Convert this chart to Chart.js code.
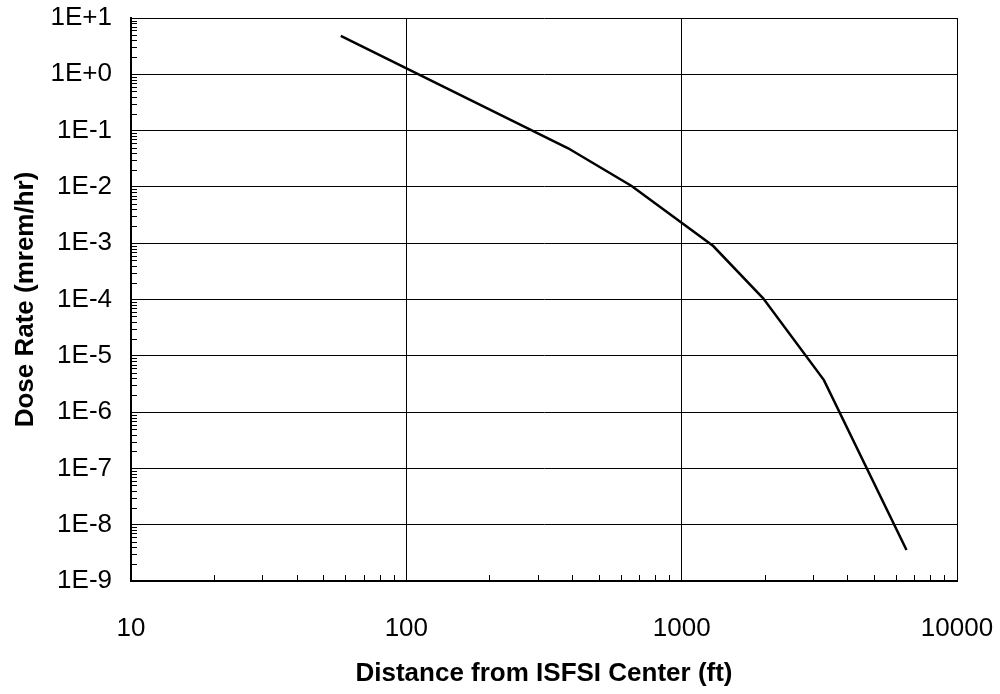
<!DOCTYPE html>
<html>
<head>
<meta charset="utf-8">
<script src="https://cdn.jsdelivr.net/npm/chart.js@4/dist/chart.umd.min.js"></script>
<style>
  body { margin: 0; background: #fff; }
  canvas { display: block; }
</style>
</head>
<body>
<canvas id="doseChart" width="1000" height="694"></canvas>
<script>
// distance from ISFSI center (ft) and dose rate (mrem/hr)
const distances = [57.8, 387, 658, 1302, 1977, 3286, 6556];
const doseRates = [4.8, 0.0485, 0.0104, 8.9e-4, 1.05e-4, 3.7e-6, 3.55e-9];

const xTicks = [10, 100, 1000, 10000];
const xTickLabels = ['10', '100', '1000', '10000'];
const yTicks = [1e-9, 1e-8, 1e-7, 1e-6, 1e-5, 1e-4, 1e-3, 1e-2, 1e-1, 1e0, 1e1];
const yTickLabels = ['1E-9', '1E-8', '1E-7', '1E-6', '1E-5', '1E-4', '1E-3', '1E-2', '1E-1', '1E+0', '1E+1'];

const FONT = "'Liberation Sans', Arial, sans-serif";

// minor ticks (2..9 in each decade), drawn inward from the axes
const minorTicks = {
  id: 'minorTicks',
  afterDatasetsDraw(chart) {
    const { ctx, chartArea, scales } = chart;
    ctx.save();
    ctx.strokeStyle = '#000';
    ctx.lineWidth = 1;
    ctx.beginPath();
    for (let i = 0; i < xTicks.length - 1; i++) {
      for (let m = 2; m < 10; m++) {
        const px = Math.round(scales.x.getPixelForValue(xTicks[i] * m)) + 0.5;
        ctx.moveTo(px, chartArea.bottom);
        ctx.lineTo(px, chartArea.bottom - 6);
      }
    }
    for (let i = 0; i < yTicks.length - 1; i++) {
      for (let m = 2; m < 10; m++) {
        const py = Math.round(scales.y.getPixelForValue(yTicks[i] * m)) + 0.5;
        ctx.moveTo(chartArea.left, py);
        ctx.lineTo(chartArea.left + 6, py);
      }
    }
    ctx.stroke();
    ctx.restore();
  }
};

// keep label overhang from pushing the plot area in
function noPad(scale) {
  scale.paddingLeft = 0;
  scale.paddingRight = 0;
  scale.paddingTop = 0;
  scale.paddingBottom = 0;
}

const ctx = document.getElementById('doseChart').getContext('2d');
new Chart(ctx, {
  type: 'scatter',
  data: {
    datasets: [{
      data: distances.map((d, i) => ({ x: d, y: doseRates[i] })),
      showLine: true,
      borderColor: '#000',
      borderWidth: 2.5,
      pointRadius: 0,
      tension: 0
    }]
  },
  options: {
    responsive: false,
    animation: false,
    layout: { padding: { top: 18, right: 43, left: 0, bottom: 0 } },
    plugins: {
      legend: { display: false },
      tooltip: { enabled: false }
    },
    scales: {
      x: {
        type: 'logarithmic',
        min: 10,
        max: 10000,
        afterBuildTicks: (scale) => { scale.ticks = xTicks.map(v => ({ value: v })); },
        afterFit: (scale) => { scale.height = 113; noPad(scale); },
        grid: { color: '#000', lineWidth: 1, drawTicks: false },
        border: { display: true, color: '#000', width: 2 },
        ticks: {
          autoSkip: false,
          maxRotation: 0,
          padding: 32,
          color: '#000',
          font: { family: FONT, size: 26 },
          callback: (v, i) => xTickLabels[i]
        },
        title: {
          display: true,
          text: 'Distance from ISFSI Center (ft)',
          color: '#000',
          font: { family: FONT, size: 26, weight: 'bold' },
          padding: { top: 0, bottom: 5 }
        }
      },
      y: {
        type: 'logarithmic',
        min: 1e-9,
        max: 1e1,
        afterBuildTicks: (scale) => { scale.ticks = yTicks.map(v => ({ value: v })); },
        afterFit: (scale) => { scale.width = 131; noPad(scale); },
        grid: { color: '#000', lineWidth: 1, drawTicks: false },
        border: { display: true, color: '#000', width: 2 },
        ticks: {
          autoSkip: false,
          padding: 19,
          color: '#000',
          font: { family: FONT, size: 26 },
          callback: (v, i) => yTickLabels[i]
        },
        title: {
          display: true,
          text: 'Dose Rate (mrem/hr)',
          color: '#000',
          font: { family: FONT, size: 26, weight: 'bold' },
          padding: { top: 10, bottom: 0 }
        }
      }
    }
  },
  plugins: [minorTicks]
});
</script>
</body>
</html>
